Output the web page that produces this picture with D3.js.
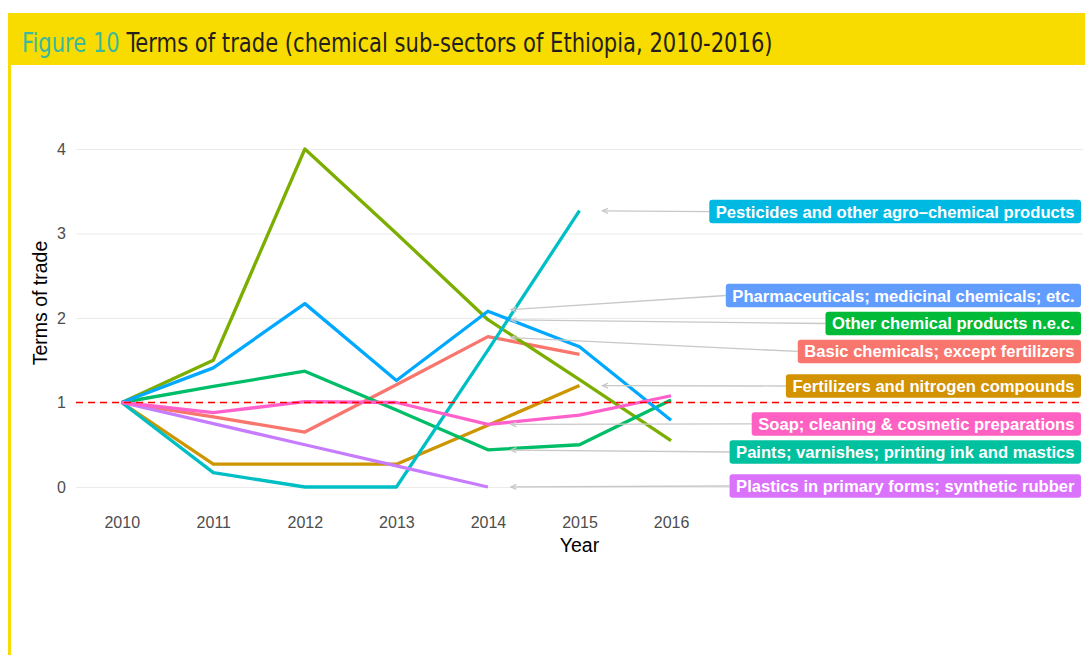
<!DOCTYPE html>
<html><head><meta charset="utf-8">
<script src="https://cdn.jsdelivr.net/npm/d3@7"></script>
<style>body{margin:0;background:#fff} svg{display:block}</style>
</head><body><svg id="c" width="1085" height="655"></svg>
<script>
// ---- data ----
const years = [2010, 2011, 2012, 2013, 2014, 2015, 2016];
const seriesNames = [
  "Basic chemicals; except fertilizers",
  "Fertilizers and nitrogen compounds",
  "Other chemical products n.e.c.",
  "Paints; varnishes; printing ink and mastics",
  "Pesticides and other agro\u2013chemical products",
  "Pharmaceuticals; medicinal chemicals; etc.",
  "Plastics in primary forms; synthetic rubber",
  "Soap; cleaning & cosmetic preparations"
];
const basicChemicals = [1, 0.83, 0.65, 1.21, 1.78, 1.57, null];
const fertilizers    = [1, 0.27, 0.27, 0.27, 0.73, 1.20, null];
const otherChemical  = [1, 1.50, 4.00, 3.00, 1.98, 1.27, 0.55];
const paints         = [1, 1.19, 1.37, 0.91, 0.44, 0.50, 1.03];
const pesticides     = [1, 0.17, 0.00, 0.00, 1.62, 3.27, null];
const pharmaceuticals= [1, 1.41, 2.17, 1.26, 2.08, 1.66, 0.79];
const plastics       = [1, 0.75, 0.50, 0.25, 0.00, null, null];
const soap           = [1, 0.88, 1.01, 1.00, 0.74, 0.85, 1.08];
const seriesValues = [basicChemicals, fertilizers, otherChemical, paints, pesticides, pharmaceuticals, plastics, soap];
const yTicks = [0, 1, 2, 3, 4];
const referenceLevel = 1;
const labelAnchorYear = [2014, 2015, 2014, 2014, 2015, 2014, 2014, 2014];

// ---- styling / layout ----
const lineColors  = ["#F8766D","#CD9600","#7CAE00","#00BE67","#00BFC4","#00A9FF","#C77CFF","#FF61CC"];
const labelColors = ["#F8766D","#D39200","#00BA38","#00C19F","#00B9E3","#619CFF","#DB72FB","#FF61C3"];
const labelLevel  = [1.604, 1.195, 1.935, 0.414, 3.26, 2.266, 0.012, 0.746]; // repelled label centres (value units)

const svg = d3.select("#c");
const W = 1085, H = 655;

// header
svg.append("rect").attr("x", 8).attr("y", 13).attr("width", W - 8).attr("height", 52).attr("fill", "#F8DC00");
svg.append("rect").attr("x", 8).attr("y", 65).attr("width", 3).attr("height", H - 65).attr("fill", "#F8DC00");
const title = svg.append("text").attr("x", 0).attr("y", 0)
  .style("font-family", "'Liberation Sans Narrow','DejaVu Sans Condensed','Open Sans',sans-serif")
  .style("font-size", "27px");
title.append("tspan").attr("fill", "#3BB89E").text("Figure 10 ");
title.append("tspan").attr("fill", "#231F20").text("Terms of trade (chemical sub-sectors of Ethiopia, 2010-2016)");
const tw = title.node().getComputedTextLength();
title.attr("transform", `translate(22,52) scale(${751 / tw},1)`);

// scales
const x = d3.scaleLinear().domain([2009.5, 2020.5]).range([76, 1083]);
const y = d3.scaleLinear().domain([0, 4]).range([487, 149]);

// y axis + gridlines
const gy = svg.append("g").attr("transform", `translate(${x.range()[0]},0)`)
  .call(d3.axisLeft(y).tickValues(yTicks).tickSize(-(x.range()[1] - x.range()[0])).tickPadding(10).tickFormat(d3.format("d")));
gy.select(".domain").remove();
gy.selectAll(".tick line").attr("stroke", "#EBEBEB").attr("stroke-width", 1.2);
gy.selectAll(".tick text").attr("fill", "#4D4D4D").style("font-family", "'Liberation Sans',Arial,sans-serif").style("font-size", "16px");

// x axis
const gx = svg.append("g").attr("transform", "translate(0,504)")
  .call(d3.axisBottom(x).tickValues(years).tickSize(0).tickPadding(12.5).tickFormat(d3.format("d")));
gx.select(".domain").remove();
gx.selectAll(".tick text").attr("fill", "#4D4D4D").style("font-family", "'Liberation Sans',Arial,sans-serif").style("font-size", "16px");

// axis titles
svg.append("text").attr("x", (x.range()[0] + x.range()[1]) / 2).attr("y", 552).attr("text-anchor", "middle")
  .style("font-family", "'Liberation Sans',Arial,sans-serif").style("font-size", "19.5px").attr("fill", "#000").text("Year");
svg.append("text").attr("transform", "translate(47,303) rotate(-90)").attr("text-anchor", "middle")
  .style("font-family", "'Liberation Sans',Arial,sans-serif").style("font-size", "19.5px").attr("fill", "#000").text("Terms of trade");

// lines
const line = d3.line().defined(d => d.v != null).x(d => x(d.year)).y(d => y(d.v));
seriesValues.forEach((vals, i) => {
  const pts = years.map((yr, j) => ({ year: yr, v: vals[j] }));
  svg.append("path").datum(pts).attr("d", line).attr("fill", "none")
    .attr("stroke", lineColors[i]).attr("stroke-width", 3.3).attr("stroke-linejoin", "round");
});

// reference line
svg.append("line").attr("x1", x.range()[0]).attr("x2", x.range()[1])
  .attr("y1", y(referenceLevel)).attr("y2", y(referenceLevel))
  .attr("stroke", "#FF0000").attr("stroke-width", 1.6).attr("stroke-dasharray", "7,5");

// labels
const labelFont = "'Liberation Sans',Arial,sans-serif";
const measure = svg.append("text").style("font-family", labelFont).style("font-weight", "bold").style("font-size", "14px")
  .text(seriesNames[4]);
const lfs = 14 * 359 / measure.node().getComputedTextLength();
measure.remove();
const pad = 6.5, bh = 23.5, boxRight = x.range()[1] - 2;
const gLab = svg.append("g");
seriesNames.forEach((name, i) => {
  const j = years.indexOf(labelAnchorYear[i]);
  const ax = x(labelAnchorYear[i]), ay = y(seriesValues[i][j]);
  const cy = y(labelLevel[i]);
  const t = gLab.append("text").style("font-family", labelFont).style("font-weight", "bold")
    .style("font-size", lfs + "px").attr("fill", "#fff").attr("text-anchor", "end")
    .attr("x", boxRight - pad).attr("y", cy).attr("dy", "0.36em").text(name);
  const w = t.node().getComputedTextLength();
  const bx = boxRight - w - 2 * pad;
  const dx = bx - ax, dy = cy - ay, len = Math.hypot(dx, dy);
  const ux = dx / len, uy = dy / len;
  const ex = ax + ux * 23, ey = ay + uy * 23;
  const g = gLab.insert("g", "text");
  g.append("line").attr("x1", bx).attr("y1", cy).attr("x2", ex).attr("y2", ey)
    .attr("stroke", "#C8C8C8").attr("stroke-width", 1.3);
  const ah = 6, ang = 25 * Math.PI / 180;
  const w1x = ex + ah * (ux * Math.cos(ang) - uy * Math.sin(ang));
  const w1y = ey + ah * (ux * Math.sin(ang) + uy * Math.cos(ang));
  const w2x = ex + ah * (ux * Math.cos(-ang) - uy * Math.sin(-ang));
  const w2y = ey + ah * (ux * Math.sin(-ang) + uy * Math.cos(-ang));
  g.append("path").attr("d", `M${w1x},${w1y}L${ex},${ey}L${w2x},${w2y}`).attr("fill", "none")
    .attr("stroke", "#C8C8C8").attr("stroke-width", 1.3);
  gLab.insert("rect", "text").attr("x", bx).attr("y", cy - bh / 2).attr("width", w + 2 * pad).attr("height", bh)
    .attr("rx", 3).attr("fill", labelColors[i]);
});
gLab.selectAll("g").lower();
</script>
</body></html>
